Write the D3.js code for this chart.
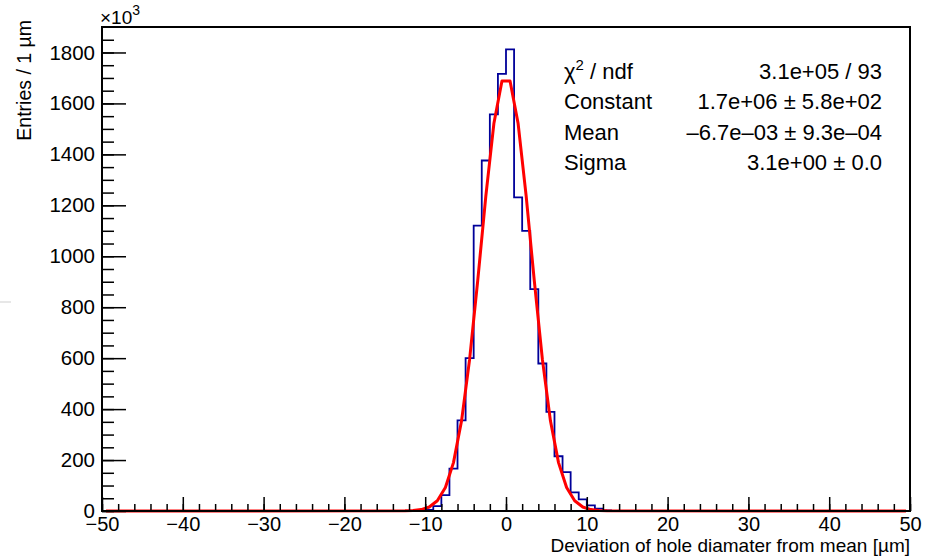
<!DOCTYPE html>
<html>
<head>
<meta charset="utf-8">
<script src="https://cdn.jsdelivr.net/npm/d3@7"></script>
<style>
  body { margin: 0; background: #fff; }
  svg { display: block; font-family: "Liberation Sans", Arial, sans-serif; }
</style>
</head>
<body>
<svg width="934" height="558"></svg>
<script>
// histogram: 1 um bins from -50 to 50, only bins between -11 and 13 have content (x10^3 entries)
var histRange = [-50, 50];
var firstBin = -11;
var counts = [1, 4, 19, 62, 166, 356, 600, 1120, 1376, 1557, 1716, 1812,
              1231, 1100, 871, 579, 389, 215, 153, 73, 46, 22, 9, 2];

// gaussian fit, as drawn (points at bin centres)
var fitX = [-49.5, -12.5, -11.5, -10.5, -9.5, -8.5, -7.5, -6.5, -5.5, -4.5, -3.5, -2.5, -1.5, -0.5,
            0.5, 1.5, 2.5, 3.5, 4.5, 5.5, 6.5, 7.5, 8.5, 9.5, 10.5, 11.5, 12.5, 49.5];
var fitY = [0, 0.5, 1.8, 5.5, 15.6, 40, 92, 190, 354, 596, 904, 1235, 1521, 1688,
            1688, 1521, 1235, 904, 596, 354, 190, 92, 40, 15.6, 5.5, 1.8, 0.5, 0];

var xTicks = [-50, -40, -30, -20, -10, 0, 10, 20, 30, 40, 50];
var yTicks = [0, 200, 400, 600, 800, 1000, 1200, 1400, 1600, 1800];
var yMax = 1900;

var statNames = ["χ2 / ndf", "Constant", "Mean", "Sigma"];
var statValues = ["3.1e+05 / 93", "1.7e+06 ± 5.8e+02", "–6.7e–03 ± 9.3e–04", "3.1e+00 ± 0.0"];

var svg = d3.select("svg"),
    margin = {top: 27, right: 24, bottom: 47, left: 102},
    width = 934 - margin.left - margin.right,
    height = 558 - margin.top - margin.bottom;

var x = d3.scaleLinear().domain(histRange).range([margin.left, margin.left + width]),
    y = d3.scaleLinear().domain([0, yMax]).range([margin.top + height, margin.top]);

// stray grey dash at the left edge
svg.append("line")
    .attr("x1", 0).attr("x2", 11).attr("y1", 302).attr("y2", 302)
    .style("stroke", "#cfcfcf").style("stroke-width", 1);

// build the full list of bins
var bins = [];
for (var b = histRange[0]; b < histRange[1]; b++) {
  var k = b - firstBin;
  bins.push({lo: b, hi: b + 1, n: (k >= 0 && k < counts.length) ? counts[k] : 0});
}

var step = "M" + x(bins[0].lo) + "," + y(0);
bins.forEach(function(d) {
  step += "L" + x(d.lo) + "," + y(d.n) + "L" + x(d.hi) + "," + y(d.n);
});
step += "L" + x(histRange[1]) + "," + y(0);

svg.append("path")
    .attr("d", step)
    .style("fill", "none")
    .style("stroke", "#000099")
    .style("stroke-width", 1.8);

var line = d3.line()
    .x(function(d, i) { return x(fitX[i]); })
    .y(function(d) { return y(d); });

svg.append("path")
    .attr("d", line(fitY))
    .style("fill", "none")
    .style("stroke", "#ff0000")
    .style("stroke-width", 3)
    .style("stroke-linejoin", "round");

// frame
svg.append("rect")
    .attr("x", margin.left).attr("y", margin.top)
    .attr("width", width).attr("height", height)
    .style("fill", "none").style("stroke", "#000").style("stroke-width", 2);

// y axis: long ticks every 200, short every 50, drawn into the frame
var yMinor = d3.range(0, yMax, 50);
svg.append("g")
    .attr("transform", "translate(" + margin.left + ",0)")
    .call(d3.axisLeft(y).tickValues(yMinor).tickSizeInner(-12).tickSizeOuter(0).tickFormat(""))
    .call(function(g) { g.select(".domain").remove(); });

var yAxis = svg.append("g")
    .attr("transform", "translate(" + margin.left + ",0)")
    .call(d3.axisLeft(y).tickValues(yTicks).tickSizeInner(-24).tickSizeOuter(0).tickPadding(7)
      .tickFormat(d3.format("d")));
yAxis.select(".domain").remove();

// x axis: long ticks every 10, short every 2
var xMinor = d3.range(-50, 51, 2);
svg.append("g")
    .attr("transform", "translate(0," + (margin.top + height) + ")")
    .call(d3.axisBottom(x).tickValues(xMinor).tickSizeInner(-7).tickSizeOuter(0).tickFormat(""))
    .call(function(g) { g.select(".domain").remove(); });

var xAxis = svg.append("g")
    .attr("transform", "translate(0," + (margin.top + height) + ")")
    .call(d3.axisBottom(x).tickValues(xTicks).tickSizeInner(-14).tickSizeOuter(0).tickPadding(6));
xAxis.select(".domain").remove();

svg.selectAll(".tick line").style("stroke", "#000").style("stroke-width", 1.5);
yAxis.selectAll("text").style("font-size", "20.5px").style("fill", "#000")
    .style("font-family", "'Liberation Sans', Arial, sans-serif");
xAxis.selectAll("text").style("font-size", "20px").style("fill", "#000")
    .style("font-family", "'Liberation Sans', Arial, sans-serif");

// x10^3 multiplier
var mult = svg.append("text")
    .attr("x", margin.left - 2)
    .attr("y", 24)
    .style("font-size", "19px");
mult.append("tspan").text("×10");
mult.append("tspan").attr("dy", -9).style("font-size", "14px").text("3");

// axis titles
svg.append("text")
    .attr("transform", "translate(31,20) rotate(-90)")
    .attr("text-anchor", "end")
    .style("font-size", "19.5px")
    .text("Entries / 1 µm");

svg.append("text")
    .attr("x", margin.left + width)
    .attr("y", 552)
    .attr("text-anchor", "end")
    .style("font-size", "19px")
    .text("Deviation of hole diamater from mean [µm]");

// fit statistics
var stats = svg.append("g").style("font-size", "22px");
statNames.forEach(function(name, i) {
  var t = stats.append("text").attr("x", 564).attr("y", 79 + i * 30.3);
  if (i === 0) {
    t.append("tspan").text("χ");
    t.append("tspan").attr("dy", -9).style("font-size", "15px").text("2");
    t.append("tspan").attr("dy", 9).text(" / ndf");
  } else {
    t.text(name);
  }
  stats.append("text")
      .attr("x", 882).attr("y", 79 + i * 30.3)
      .attr("text-anchor", "end")
      .text(statValues[i]);
});
</script>
</body>
</html>
